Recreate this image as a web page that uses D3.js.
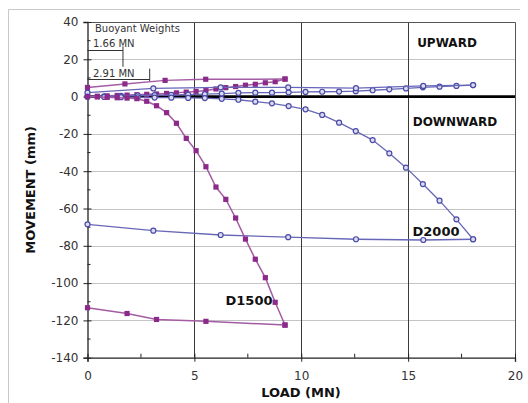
<!DOCTYPE html>
<html>
  <head>
    <meta charset="utf-8" />
    <script src="https://cdn.jsdelivr.net/npm/d3@7/dist/d3.min.js"></script>
    <style>
      body {
        margin: 0;
        background: white;
      }
      text {
        font-family: "DejaVu Sans", sans-serif;
      }
    </style>
  </head>
  <body>
    <svg id="chart"></svg>
    <script type="text/javascript">
      // D1500 downward test (purple squares)
      var d1500DownLoad = [0, 0.46, 0.92, 1.39, 1.85, 2.31, 2.77, 3.23, 3.7, 4.16, 4.62, 5.08, 5.54, 6.01, 6.47, 6.93, 7.39, 7.85, 8.32, 8.78, 9.24];
      var d1500DownMove = [0, -0.2, -0.4, -0.6, -0.8, -1.1, -2.5, -4.9, -8.6, -14.3, -22.4, -29.0, -37.6, -48.5, -55.1, -65.1, -76.4, -87.2, -97.1, -110.3, -122.5];
      var d1500UnloadLoad = [9.24, 5.54, 3.23, 1.85, 0];
      var d1500UnloadMove = [-122.5, -120.5, -119.5, -116.3, -113.2];

      // D1500 upward test
      var d1500UpLoad = [0, 0.46, 0.92, 1.39, 1.85, 2.31, 2.77, 3.23, 3.7, 4.16, 4.62, 5.08, 5.54, 6.01, 6.47, 6.93, 7.39, 7.85, 8.32, 8.78, 9.24];
      var d1500UpMove = [0, 0.2, 0.4, 0.6, 0.8, 1.0, 1.2, 1.4, 1.7, 2.0, 2.4, 2.8, 3.3, 4.1, 4.8, 5.4, 6.1, 6.6, 7.4, 8.0, 9.4];
      var d1500UpBackLoad = [9.24, 5.53, 3.63, 1.75, 0];
      var d1500UpBackMove = [9.4, 9.3, 8.7, 6.8, 4.9];

      // D2000 downward test (blue circles)
      var d2000DownLoad = [0, 0.78, 1.57, 2.35, 3.14, 3.92, 4.71, 5.49, 6.28, 7.06, 7.85, 8.63, 9.41, 10.2, 10.98, 11.77, 12.55, 13.34, 14.12, 14.9, 15.69, 16.47, 17.26, 18.04];
      var d2000DownMove = [0, -0.2, -0.3, -0.4, -0.5, -0.6, -0.7, -0.8, -1.2, -1.7, -2.7, -3.6, -5.1, -6.8, -9.8, -14.0, -18.5, -23.3, -30.4, -38.1, -46.9, -55.8, -65.8, -76.5];
      var d2000UnloadLoad = [18.04, 15.71, 12.56, 9.39, 6.23, 3.08, 0];
      var d2000UnloadMove = [-76.5, -76.9, -76.5, -75.4, -74.2, -71.9, -68.5];

      // D2000 upward test
      var d2000UpLoad = [0, 0.78, 1.57, 2.35, 3.14, 3.92, 4.71, 5.49, 6.28, 7.06, 7.85, 8.63, 9.41, 10.2, 10.98, 11.77, 12.55, 13.34, 14.12, 14.9, 15.69, 16.47, 17.26, 18.04];
      var d2000UpMove = [0, 0.2, 0.4, 0.6, 0.8, 0.9, 1.1, 1.3, 1.6, 2.0, 2.1, 2.1, 2.3, 2.5, 2.6, 2.7, 2.9, 3.4, 3.9, 4.4, 5.0, 5.3, 5.7, 6.2];
      var d2000UpBackLoad = [18.04, 15.71, 12.56, 9.39, 6.23, 3.08, 0];
      var d2000UpBackMove = [6.2, 5.7, 4.5, 4.9, 4.9, 4.4, 2.1];

      var xTicks = [0, 5, 10, 15, 20];
      var yTicks = [40, 20, 0, -20, -40, -60, -80, -100, -120, -140];
      var buoyant = [1.66, 2.91];

      var width = 528,
        height = 403;

      var purple = "#8b2a8b",
        purpleLine = "#a35ca3",
        blue = "#4a4aa6",
        blueLine = "#6767b8";

      var svg = d3
        .select("#chart")
        .attr("width", width)
        .attr("height", height);

      var x = d3.scaleLinear().domain([0, 20]).range([87.5, 515]);
      var y = d3.scaleLinear().domain([-140, 40]).range([357.7, 22]);

      function zip(xs, ys) {
        return xs.map((v, i) => [v, ys[i]]);
      }

      // outer frame
      svg
        .append("path")
        .attr("d", "M8.5,403V9.5H520")
        .attr("fill", "none")
        .attr("stroke", "#c8c8c8");

      // horizontal grid
      svg
        .append("g")
        .selectAll("line")
        .data(yTicks.filter(d => d != 0 && d != -140 && d != 40))
        .enter()
        .append("line")
        .attr("x1", x(0))
        .attr("x2", x(20))
        .attr("y1", d => Math.round(y(d)) + 0.5)
        .attr("y2", d => Math.round(y(d)) + 0.5)
        .attr("stroke", "#c4c4c4");

      // vertical grid
      svg
        .append("g")
        .selectAll("line")
        .data([5, 10, 15])
        .enter()
        .append("line")
        .attr("x1", d => Math.round(x(d)) + 0.5)
        .attr("x2", d => Math.round(x(d)) + 0.5)
        .attr("y1", y(40))
        .attr("y2", y(-140))
        .attr("stroke", "#3a3a3a");

      // plot frame top / right
      svg
        .append("path")
        .attr("d", `M${x(0)},${Math.round(y(40)) + 0.5}H${Math.round(x(20)) + 0.5}V${y(-140)}`)
        .attr("fill", "none")
        .attr("stroke", "#555");

      // zero line
      svg
        .append("line")
        .attr("x1", x(0))
        .attr("x2", x(20))
        .attr("y1", y(0))
        .attr("y2", y(0))
        .attr("stroke", "black")
        .attr("stroke-width", 2.6);

      // axes (plain hyphen minus like the original)
      var xAxis = d3
        .axisBottom(x)
        .tickValues(xTicks)
        .tickFormat(d => String(d))
        .tickSize(4)
        .tickPadding(10);
      var xAxisG = svg
        .append("g")
        .attr("transform", `translate(0,${y(-140)})`)
        .call(xAxis);

      var yAxis = d3
        .axisLeft(y)
        .tickValues(yTicks)
        .tickFormat(d => String(d))
        .tickSize(4)
        .tickPadding(5);
      var yAxisG = svg
        .append("g")
        .attr("transform", `translate(${x(0)},0)`)
        .call(yAxis);

      [xAxisG, yAxisG].forEach(g => {
        g.select(".domain").attr("stroke", "#222").attr("stroke-width", 1.3);
        g.selectAll(".tick line").attr("stroke", "#222");
        g.selectAll(".tick text")
          .attr("fill", "#333")
          .style("font-size", "12px");
      });
      // major ticks cross the axis
      xAxisG.selectAll(".tick line").attr("y1", -4);
      yAxisG.selectAll(".tick line").attr("x1", 4);

      // minor ticks
      svg
        .append("g")
        .selectAll("line")
        .data([2.5, 7.5, 12.5, 17.5])
        .enter()
        .append("line")
        .attr("x1", d => x(d))
        .attr("x2", d => x(d))
        .attr("y1", y(-140) - 4)
        .attr("y2", y(-140))
        .attr("stroke", "#222");

      svg
        .append("g")
        .selectAll("line")
        .data([30, 10, -10, -30, -50, -70, -90, -110, -130])
        .enter()
        .append("line")
        .attr("x1", x(0))
        .attr("x2", x(0) + 3)
        .attr("y1", d => y(d))
        .attr("y2", d => y(d))
        .attr("stroke", "#222");

      // buoyant weight annotation
      var ann = svg.append("g").attr("stroke", "#333").attr("fill", "none");
      ann
        .append("path")
        .attr("d", `M${x(0)},${Math.round(y(25)) + 0.5}H${x(buoyant[0])}M${x(buoyant[0])},${y(27)}V${y(16)}`);
      ann
        .append("path")
        .attr("d", `M${x(0)},${Math.round(y(9.5)) + 0.5}H${x(buoyant[1])}M${x(buoyant[1])},${y(15)}V${y(8)}`);

      svg
        .append("text")
        .attr("x", 95)
        .attr("y", 32)
        .style("font-size", "10px")
        .attr("fill", "#333")
        .text("Buoyant Weights");
      svg
        .append("text")
        .attr("x", 93)
        .attr("y", 47)
        .style("font-size", "10px")
        .attr("fill", "#333")
        .text(buoyant[0].toFixed(2) + " MN");
      svg
        .append("text")
        .attr("x", 93)
        .attr("y", 77)
        .style("font-size", "10px")
        .attr("fill", "#333")
        .text(buoyant[1].toFixed(2) + " MN");

      var line = d3
        .line()
        .x(d => x(d[0]))
        .y(d => y(d[1]));

      function drawSquares(pts, lineColor) {
        svg
          .append("path")
          .datum(pts)
          .attr("d", line)
          .attr("fill", "none")
          .attr("stroke", lineColor)
          .attr("stroke-width", 1.5);
        svg
          .append("g")
          .selectAll("rect")
          .data(pts)
          .enter()
          .append("rect")
          .attr("x", d => x(d[0]) - 2.6)
          .attr("y", d => y(d[1]) - 2.6)
          .attr("width", 5.2)
          .attr("height", 5.2)
          .attr("fill", purple);
      }

      function drawCircles(pts, lineColor) {
        svg
          .append("path")
          .datum(pts)
          .attr("d", line)
          .attr("fill", "none")
          .attr("stroke", lineColor)
          .attr("stroke-width", 1.3);
        svg
          .append("g")
          .selectAll("circle")
          .data(pts)
          .enter()
          .append("circle")
          .attr("cx", d => x(d[0]))
          .attr("cy", d => y(d[1]))
          .attr("r", 2.5)
          .attr("fill", "#dcdcf0")
          .attr("stroke", blue)
          .attr("stroke-width", 1.2);
      }

      drawSquares(zip(d1500UpLoad, d1500UpMove), purpleLine);
      drawSquares(zip(d1500UpBackLoad, d1500UpBackMove), purpleLine);
      drawCircles(zip(d2000UpLoad, d2000UpMove), blueLine);
      drawCircles(zip(d2000UpBackLoad, d2000UpBackMove), blueLine);
      drawCircles(zip(d2000DownLoad, d2000DownMove), blueLine);
      drawCircles(zip(d2000UnloadLoad, d2000UnloadMove), blueLine);
      drawSquares(zip(d1500DownLoad, d1500DownMove), purpleLine);
      drawSquares(zip(d1500UnloadLoad, d1500UnloadMove), purpleLine);

      // labels
      function boldText(tx, ty, str, size, anchor) {
        return svg
          .append("text")
          .attr("x", tx)
          .attr("y", ty)
          .attr("text-anchor", anchor || "start")
          .style("font-size", size + "px")
          .style("font-weight", "bold")
          .attr("fill", "#111")
          .text(str);
      }

      boldText(447, 47, "UPWARD", 12, "middle");
      boldText(455, 126, "DOWNWARD", 12, "middle");
      boldText(436, 236, "D2000", 13, "middle");
      boldText(249, 305, "D1500", 13, "middle");
      boldText(301, 397, "LOAD (MN)", 13, "middle");
      boldText(0, 0, "MOVEMENT (mm)", 13, "middle").attr(
        "transform",
        `translate(35,${y(-50)}) rotate(-90)`
      );
    </script>
  </body>
</html>
